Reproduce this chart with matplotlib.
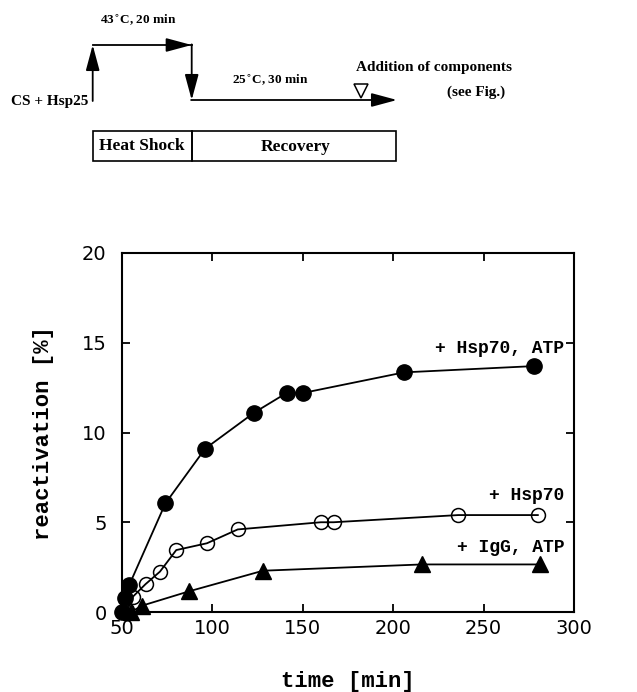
import matplotlib
matplotlib.use("Agg")
import matplotlib.pyplot as plt
from matplotlib.patches import Rectangle

# ---- data ----
t_hsp70_atp = [50, 51.7, 54, 74, 96, 123, 141, 150, 206, 278]
r_hsp70_atp = [0.0, 0.8, 1.5, 6.05, 9.1, 11.1, 12.2, 12.2, 13.35, 13.7]

t_hsp70 = [53, 56, 63, 71, 80, 97, 114, 160, 167, 236, 280]
r_hsp70 = [0.1, 0.85, 1.55, 2.25, 3.45, 3.83, 4.6, 5.0, 5.0, 5.4, 5.4]

t_igg = [55, 61, 87, 128, 216, 281]
r_igg = [0.0, 0.35, 1.15, 2.3, 2.65, 2.65]

xticks = [50, 100, 150, 200, 250, 300]
yticks = [0, 5, 10, 15, 20]
series_labels = ["+ Hsp70, ATP", "+ Hsp70", "+ IgG, ATP"]

W, H = 637, 692
fig = plt.figure(figsize=(W / 100, H / 100), dpi=100)

# ---- schematic on top (pixel coordinates) ----
sk = fig.add_axes([0, 0, 1, 1])
sk.set_xlim(0, W)
sk.set_ylim(H, 0)
sk.axis("off")
serif = dict(family="Liberation Serif", weight="bold", color="black")
arrow_kw = dict(arrowstyle="-|>,head_length=1.3,head_width=0.35", color="black",
                lw=1.3, mutation_scale=12, shrinkA=0, shrinkB=0)
sk.annotate("", xy=(92.7, 45), xytext=(92.7, 101), arrowprops=arrow_kw)
sk.plot([92.7, 191.7], [45, 45], color="black", lw=1.3)
sk.annotate("", xy=(191.7, 45), xytext=(170, 45), arrowprops=arrow_kw)
sk.annotate("", xy=(191.7, 100), xytext=(191.7, 44.4), arrowprops=arrow_kw)
sk.annotate("", xy=(397, 100), xytext=(191.1, 100), arrowprops=arrow_kw)
sk.plot([361], [91], marker="v", markersize=10, markerfacecolor="white",
        markeredgecolor="black", markeredgewidth=1.1)
sk.text(138, 20, "43$^{\\circ}$C, 20 min", ha="center", va="center", fontsize=9.5, **serif)
sk.text(270, 80, "25$^{\\circ}$C, 30 min", ha="center", va="center", fontsize=9.5, **serif)
sk.text(512, 67, "Addition of components", ha="right", va="center", fontsize=11, **serif)
sk.text(505, 92, "(see Fig.)", ha="right", va="center", fontsize=11, **serif)
sk.text(88, 102, "CS + Hsp25", ha="right", va="center", fontsize=11, **serif)
sk.add_patch(Rectangle((92.7, 131), 99, 30, fill=False, lw=1.2, edgecolor="black"))
sk.add_patch(Rectangle((191.7, 131), 204.3, 30, fill=False, lw=1.2, edgecolor="black"))
sk.text(142, 146, "Heat Shock", ha="center", va="center", fontsize=12.5, **serif)
sk.text(296, 147, "Recovery", ha="center", va="center", fontsize=12.5, **serif)

# ---- main chart ----
ax = fig.add_axes([122 / W, 80 / H, 452 / W, 359 / H])
ax.plot(t_hsp70_atp, r_hsp70_atp, color="black", lw=1.3, marker="o", markersize=11,
        markerfacecolor="black", markeredgecolor="black", clip_on=False, zorder=3)
ax.plot(t_hsp70, r_hsp70, color="black", lw=1.3, marker="o", markersize=10,
        markerfacecolor="none", markeredgecolor="black", markeredgewidth=1.1,
        clip_on=False, zorder=3)
ax.plot(t_igg, r_igg, color="black", lw=1.3, marker="^", markersize=11,
        markerfacecolor="black", markeredgecolor="black", clip_on=False, zorder=3)

mono = dict(family="Liberation Mono", weight="bold", color="black")
ax.text(294.5, 14.7, series_labels[0], ha="right", va="center", fontsize=13, **mono)
ax.text(294.5, 6.5, series_labels[1], ha="right", va="center", fontsize=13, **mono)
ax.text(294.5, 3.57, series_labels[2], ha="right", va="center", fontsize=13, **mono)

ax.set_xlim(50, 300)
ax.set_ylim(0, 20)
ax.set_xticks(xticks)
ax.set_yticks(yticks)
ax.set_xticklabels([str(v) for v in xticks], family="DejaVu Sans", fontsize=14)
ax.set_yticklabels([str(v) for v in yticks], family="DejaVu Sans", fontsize=14)
ax.tick_params(direction="in", length=6, width=1.3, top=True, right=True)
ax.tick_params(axis="y", pad=11)
ax.tick_params(axis="x", pad=5)
for s in ax.spines.values():
    s.set_linewidth(1.5)
ax.set_xlabel("time [min]", fontsize=16, labelpad=24, **mono)
ax.set_ylabel("reactivation [%]", fontsize=16, labelpad=20, **mono)

fig.savefig("out.png", dpi=100)
